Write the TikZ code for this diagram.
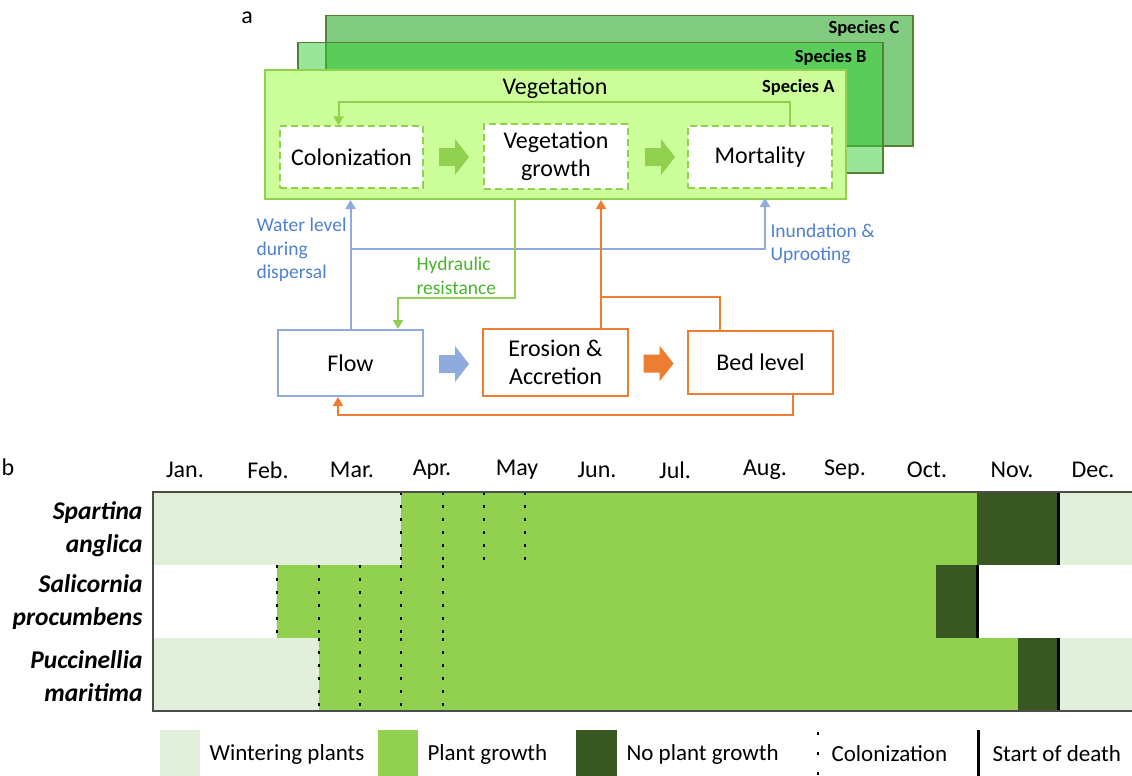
\documentclass[tikz,border=0pt]{standalone}
\usepackage{fontspec}
\setmainfont{Carlito}
\usetikzlibrary{arrows.meta,positioning}
\definecolor{vegline}{RGB}{146,208,80}
\definecolor{vegfill}{RGB}{204,255,153}
\definecolor{spcfill}{RGB}{130,204,130}
\definecolor{spbfill}{RGB}{51,204,51}
\definecolor{spline}{RGB}{84,130,53}
\definecolor{flowcol}{RGB}{143,170,220}
\definecolor{flowtxt}{RGB}{79,129,208}
\definecolor{sedcol}{RGB}{237,125,49}
\definecolor{hydtxt}{RGB}{72,182,44}
\definecolor{wintcol}{RGB}{226,239,218}
\definecolor{growcol}{RGB}{146,208,80}
\definecolor{nogrowcol}{RGB}{56,87,35}
\tikzset{
	panel/.style={draw=spline, line width=1.5pt, anchor=north west, inner sep=0pt},
	procbox/.style={draw=vegline, fill=white, dash pattern=on 7pt off 4pt, line width=1.5pt, align=center, inner sep=0pt, bigtxt},
	physbox/.style={fill=white, line width=2pt, align=center, inner sep=0pt, minimum width=145pt, minimum height=66pt, bigtxt},
	bigtxt/.style={font=\fontsize{24pt}{28pt}\selectfont},
	midtxt/.style={font=\fontsize{19.5pt}{23.5pt}\selectfont, align=left, anchor=west},
	sptxt/.style={font=\fontsize{18.5pt}{21pt}\selectfont\bfseries, anchor=east},
	latin/.style={font=\fontsize{25.5pt}{33pt}\selectfont\bfseries\itshape, align=right, anchor=east},
	legtxt/.style={font=\fontsize{23pt}{26pt}\selectfont, anchor=west},
	flowline/.style={draw=flowcol, line width=2pt},
	sedline/.style={draw=sedcol, line width=2pt},
	vegarrow/.style={draw=vegline, line width=2pt},
	colon/.style={line width=2.5pt, dash pattern=on 2.5pt off 10.5pt},
	death/.style={line width=3pt}
}
\begin{document}
\begin{tikzpicture}[x=1pt, y=-1pt, >={Triangle[length=9pt,width=10pt]}]
	\useasboundingbox (0,0) rectangle (1132,776);
	\node[bigtxt] (tagA) at (247,18) {a};
	\node[bigtxt] (tagB) at (8,467) {b};
	% vegetation panels
	\node[panel, fill=spcfill, minimum width=587pt, minimum height=130pt] (spC) at (325,15) {};
	\node[panel, fill=spbfill, fill opacity=0.5, minimum width=585pt, minimum height=130pt] (spB) at (297,42) {};
	\node[panel, draw=vegline, line width=2pt, fill=vegfill, minimum width=581pt, minimum height=129pt] (spA) at (264,69) {};
	\node[sptxt] (labC) at (903,28) {Species C};
	\node[sptxt] (labB) at (870,57) {Species B};
	\node[sptxt] (labA) at (838,87) {Species A};
	\node[bigtxt] (vegt) at (555,88) {Vegetation};
	\node[procbox, minimum width=143pt, minimum height=62pt] (colo) at (351.5,157) {Colonization};
	\node[procbox, minimum width=144pt, minimum height=65pt] (vgro) at (556,156.5) {Vegetation\\growth};
	\node[procbox, minimum width=144pt, minimum height=62pt] (mort) at (760,157) {Mortality};
	\draw[vegarrow,->] ([xshift=30pt]mort.north) -- ++(0,-23) -| ([xshift=-13pt]colo.north);
	% physical boxes
	\node[physbox, draw=flowcol] (flow) at (350.5,363) {Flow};
	\node[physbox, draw=sedcol, minimum height=67pt] (eros) at (555.5,362.5) {Erosion \&\\Accretion};
	\node[physbox, draw=sedcol, minimum height=63pt] (bed) at (760.5,362.5) {Bed level};
	\foreach \cx/\cy/\col in {454/157/vegline, 660/157/vegline, 454/364/flowcol, 658.5/363.5/sedcol}{
		\fill[\col] (\cx-15,\cy-9) -- (\cx+1,\cy-9) -- (\cx+1,\cy-18) -- (\cx+15,\cy) -- (\cx+1,\cy+18) -- (\cx+1,\cy+9) -- (\cx-15,\cy+9) -- cycle;
	}
	% couplings
	\coordinate (wl) at (351,249);
	\coordinate (inu) at (765,198);
	\coordinate (hr) at (515,198);
	\coordinate (ej) at (601,297);
	\draw[flowline,->] (flow.north) -- (flow.north |- spA.south);
	\draw[flowline,->] (wl) -| (inu);
	\draw[vegarrow,->] (hr) -- (515,298) -| ([xshift=47.5pt]flow.north);
	\draw[sedline,->] ([xshift=45.5pt]eros.north) -- ([xshift=45.5pt]eros.north |- spA.south);
	\draw[sedline] ([xshift=-40.5pt]bed.north) |- (ej);
	\draw[sedline,->] ([xshift=32pt]bed.south) -- ++(0,20) -| ([xshift=-12.5pt]flow.south);
	\node[midtxt, text=flowtxt] (wltxt) at (253,250) {Water level\\during\\dispersal};
	\node[midtxt, text=hydtxt] (hrtxt) at (413,276) {Hydraulic\\resistance};
	\node[midtxt, text=flowtxt] (inutxt) at (767,244) {Inundation \&\\Uprooting};
	% calendar
	\foreach \m/\x in {Jan./185, Feb./268, Mar./352, Apr./432, May/517, Jun./597, Jul./675, Aug./765, Sep./845, Oct./927, Nov./1012, Dec./1093}{
		\node[bigtxt] (m\x) at (\x,470) {\m};
	}
	\node[latin] (spang) at (146,529) {Spartina\\anglica};
	\node[latin] (salpro) at (146,602) {Salicornia\\procumbens};
	\node[latin] (pucmar) at (146,676) {Puccinellia\\maritima};
	\fill[wintcol] (153,492) rectangle (401,565);
	\fill[growcol] (401,492) rectangle (977,565);
	\fill[nogrowcol] (977,492) rectangle (1058,565);
	\fill[wintcol] (1058,492) rectangle (1132,565);
	\fill[growcol] (277,565) rectangle (936,638);
	\fill[nogrowcol] (936,565) rectangle (977,638);
	\fill[wintcol] (153,638) rectangle (319,711);
	\fill[growcol] (319,638) rectangle (1018,711);
	\fill[nogrowcol] (1018,638) rectangle (1058,711);
	\fill[wintcol] (1058,638) rectangle (1132,711);
	\foreach \x in {401,443,484,525}{
		\draw[colon] (\x,492) -- (\x,565);
	}
	\foreach \x in {277,319,360,401,443}{
		\draw[colon] (\x,565) -- (\x,638);
	}
	\foreach \x in {319,360,401,443}{
		\draw[colon] (\x,638) -- (\x,711);
	}
	\draw[death] (1058,492) -- (1058,565);
	\draw[death] (977,565) -- (977,638);
	\draw[death] (1058,638) -- (1058,711);
	\draw[black!70, line width=1.3pt] (1132,492) -- (153,492) -- (153,711) -- (1132,711);
	% legend
	\fill[wintcol] (160,730) rectangle (200,776);
	\fill[growcol] (378,730) rectangle (418,776);
	\fill[nogrowcol] (576,730) rectangle (617,776);
	\draw[line width=2.5pt, dash pattern=on 2.5pt off 17.5pt] (818,732) -- (818,776);
	\draw[death] (978,730) -- (978,776);
	\node[legtxt] (lgwint) at (206,754) {Wintering plants};
	\node[legtxt] (lggrow) at (424,754) {Plant growth};
	\node[legtxt] (lgno) at (623,754) {No plant growth};
	\node[legtxt] (lgcol) at (828,754) {Colonization};
	\node[legtxt] (lgdeath) at (989,754) {Start of death};
\end{tikzpicture}
\end{document}
